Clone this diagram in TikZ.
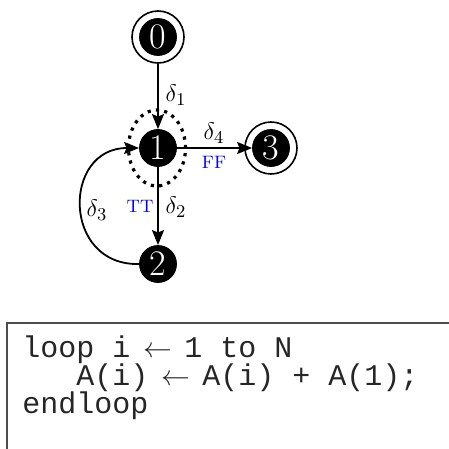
\documentclass[tikz,border=0pt]{standalone}
\usepackage{fontspec}
\newfontfamily\codefont{Liberation Mono}
\usetikzlibrary{arrows.meta,shapes.geometric}
\newcommand{\codearrow}{\makebox[0.6em][c]{$\leftarrow$}}
\begin{document}
\begin{tikzpicture}[x=0.5pt,y=-0.5pt,
  state/.style={circle,fill=black,draw=black,text=white,minimum size=18.5pt,inner sep=0pt,font=\fontsize{18}{18}\selectfont},
  ring/.style={circle,draw=black,line width=0.8pt,minimum size=26pt,inner sep=0pt},
  edge/.style={line width=0.9pt,-{Stealth[length=7.5pt,width=6pt,inset=1.2pt]}},
  dlab/.style={font=\fontsize{13}{13}\selectfont,inner sep=1pt},
  blab/.style={text=blue,font=\fontsize{9}{9}\selectfont,inner sep=1pt},
  dots/.style={draw=black,line width=1.6pt,dash pattern=on 1.6pt off 2.6pt},
  codeline/.style={anchor=base west,inner sep=0pt,text=black!85,font=\codefont\fontsize{15}{15}\selectfont}
]
\useasboundingbox (0,0) rectangle (449,449);
% rings
\node[ring] (r0) at (158,37) {};
\node[ring] (r3) at (271,148) {};
% dotted ellipse
\node[dots,ellipse,minimum width=28.5pt,minimum height=38pt,inner sep=0pt] (e1) at (157,148) {};
% states
\node[state] (n0) at (158,37) {0};
\node[state] (n1) at (158,148) {1};
\node[state] (n3) at (271,148) {3};
\node[state] (n2) at (158,264) {2};
% edges
\draw[edge] (r0) -- (n1);
\draw[edge] (n1) -- (n3);
\draw[edge] (n1) -- (n2);
\draw[edge] (n2.west) .. controls (62,266) and (62,148) .. (n1.west);
% labels
\node[dlab] (d1) at (176,95) {$\delta_1$};
\node[dlab] (d4) at (214,133) {$\delta_4$};
\node[blab] (ff) at (214,162) {FF};
\node[blab] (tt) at (140,206) {TT};
\node[dlab] (d2) at (176,207) {$\delta_2$};
\node[dlab] (d3) at (97,210) {$\delta_3$};
% code box
\coordinate (bl) at (7,449);
\coordinate (tl) at (7,323);
\coordinate (tr) at (449,323);
\draw[draw=black!70,line width=0.6pt] (bl) -- (tl) -- (tr);
\node[codeline] (c1) at (22,357) {loop i \codearrow{} 1 to N};
\node[codeline] (c2) at (22,385) {\hphantom{AAA}A(i) \codearrow{} A(i) + A(1);};
\node[codeline] (c3) at (22,413) {endloop};
\end{tikzpicture}
\end{document}
